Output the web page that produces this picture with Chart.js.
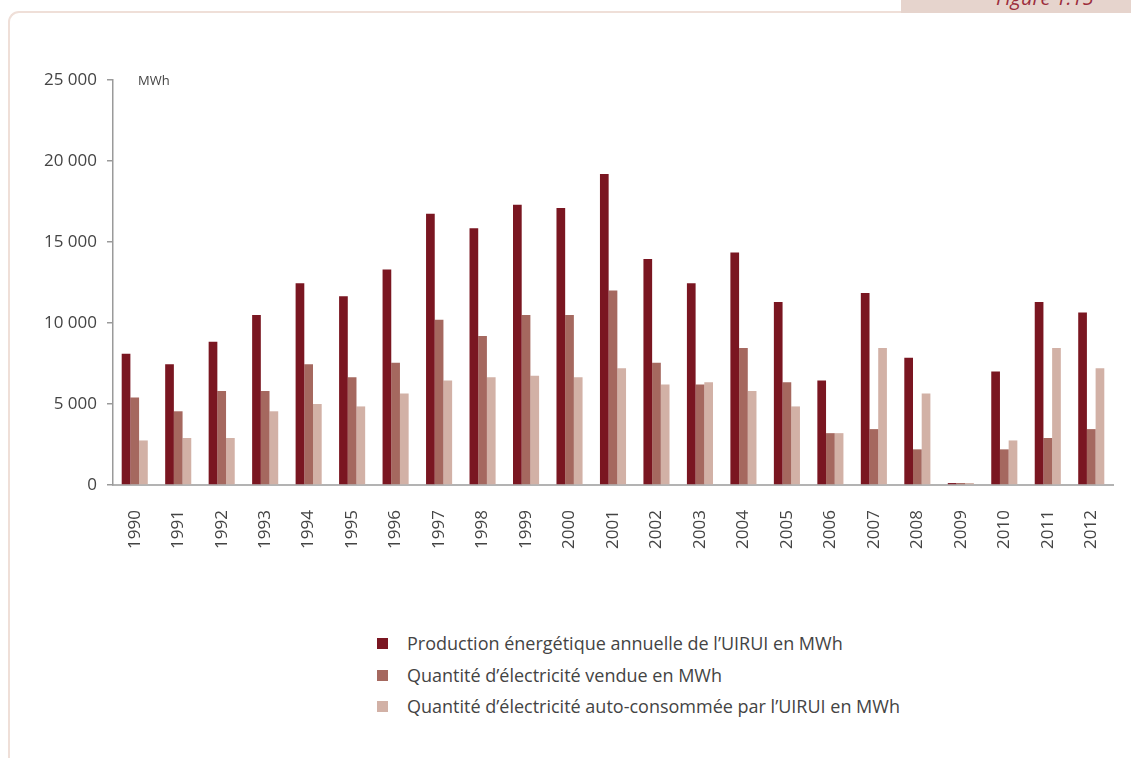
<!DOCTYPE html>
<html lang="fr">
<head>
<meta charset="utf-8">
<title>Production UIRUI 1990-2012</title>
<script src="https://cdn.jsdelivr.net/npm/chart.js@4/dist/chart.umd.min.js"></script>
<style>
    html, body { margin: 0; padding: 0; background: #fff; }
    body { width: 1131px; height: 758px; position: relative; overflow: hidden; font-family: 'Open Sans', sans-serif; }
    .frame {
        position: absolute; left: 8px; top: 11px; width: 1200px; height: 800px;
        border-left: 2.5px solid #efdfd8; border-top: 2.5px solid #efdfd8;
        border-top-left-radius: 11px;
    }
    .tab {
        position: absolute; left: 901px; top: 0; width: 230px; height: 13px;
        background: #e6d4cd; overflow: hidden;
    }
    .tab span {
        position: absolute; left: 95px; top: -16px;
        font-style: italic; font-size: 20px; color: #9c2d3c; white-space: nowrap;
    }
    #chartWrap { position: absolute; left: 0; top: 0; width: 1131px; height: 560px; }
    .legend { position: absolute; left: 377px; top: 628px; }
    .legend-item { position: relative; height: 31.5px; line-height: 31.5px; padding-left: 30px; font-size: 18px; color: #444; white-space: nowrap; }
    .legend-item i { position: absolute; left: 0; top: 10px; width: 11px; height: 11px; }
</style>
</head>
<body>
<div class="frame"></div>
<div class="tab"><span>Figure 1.15</span></div>
<div id="chartWrap"><canvas id="chartProduction"></canvas></div>
<div class="legend" id="legend"></div>

<script>
// --- Data ---
const years = ['1990', '1991', '1992', '1993', '1994', '1995', '1996', '1997', '1998', '1999', '2000', '2001',
    '2002', '2003', '2004', '2005', '2006', '2007', '2008', '2009', '2010', '2011', '2012'];

const production = [8100, 7450, 8850, 10500, 12450, 11650, 13300, 16750, 15850, 17300, 17100, 19200,
    13950, 12450, 14350, 11300, 6450, 11850, 7850, 120, 7000, 11300, 10650];

const sold = [5400, 4550, 5800, 5800, 7450, 6650, 7550, 10200, 9200, 10500, 10500, 12000,
    7550, 6200, 8450, 6350, 3200, 3450, 2200, 120, 2200, 2900, 3450];

const selfConsumed = [2750, 2900, 2900, 4550, 5000, 4850, 5650, 6450, 6650, 6750, 6650, 7200,
    6200, 6350, 5800, 4850, 3200, 8450, 5650, 120, 2750, 8450, 7200];

const yTicks = [0, 5000, 10000, 15000, 20000, 25000];

const seriesLabels = [
    'Production énergétique annuelle de l\u2019UIRUI en MWh',
    'Quantité d\u2019électricité vendue en MWh',
    'Quantité d\u2019électricité auto-consommée par l\u2019UIRUI en MWh'
];

// --- Colors ---
const SERIES_COLORS = ['#7a1621', '#a5685f', '#d2b1a6'];

const TICK_FONT = { family: "'Open Sans', sans-serif", size: 17 };

function formatThousands(v) {
    return String(v).replace(/\B(?=(\d{3})+(?!\d))/g, ' ');
}

// Unit label drawn just right of the top of the y axis
const unitLabel = {
    id: 'unitLabel',
    afterDraw(chart) {
        const { ctx, chartArea } = chart;
        ctx.save();
        ctx.font = "13px 'Open Sans', sans-serif";
        ctx.fillStyle = '#444';
        ctx.textBaseline = 'middle';
        ctx.fillText('MWh', chartArea.left + 25, chartArea.top + 1);
        ctx.restore();
    }
};

const datasets = [production, sold, selfConsumed].map((data, i) => ({
    label: seriesLabels[i],
    data: data,
    backgroundColor: SERIES_COLORS[i],
    borderWidth: 0,
    barPercentage: 1,
    categoryPercentage: 0.6
}));

new Chart(document.getElementById('chartProduction').getContext('2d'), {
    type: 'bar',
    data: { labels: years, datasets: datasets },
    plugins: [unitLabel],
    options: {
        responsive: true,
        maintainAspectRatio: false,
        animation: false,
        layout: { padding: { left: 0, right: 18, top: 80, bottom: 0 } },
        plugins: {
            legend: { display: false },
            tooltip: { enabled: false }
        },
        scales: {
            x: {
                grid: { display: false },
                border: { display: true, color: '#b3b3b3', width: 2 },
                ticks: {
                    font: TICK_FONT,
                    color: '#444',
                    minRotation: 90,
                    maxRotation: 90,
                    padding: 17,
                    autoSkip: false
                },
                afterFit(scale) { scale.height = 75; }
            },
            y: {
                min: 0,
                max: 25000,
                afterBuildTicks(scale) {
                    scale.ticks = yTicks.map(v => ({ value: v }));
                },
                grid: {
                    drawOnChartArea: false,
                    drawTicks: true,
                    tickLength: 6,
                    color: '#9a9a9a',
                    lineWidth: 1.5
                },
                border: { display: true, color: '#9a9a9a', width: 1.5 },
                ticks: {
                    font: TICK_FONT,
                    color: '#444',
                    padding: 10,
                    callback: v => formatThousands(v)
                },
                afterFit(scale) { scale.width = 113; }
            }
        }
    }
});

// --- Legend (vertical list under the chart) ---
const legendEl = document.getElementById('legend');
legendEl.innerHTML = seriesLabels.map((label, i) =>
    `<div class="legend-item"><i style="background:${SERIES_COLORS[i]}"></i>${label}</div>`
).join('');
</script>
</body>
</html>
